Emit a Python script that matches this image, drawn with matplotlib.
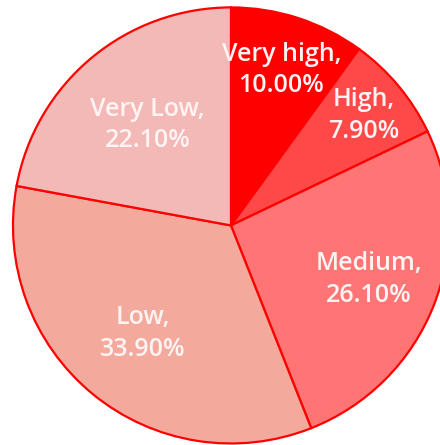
import matplotlib
matplotlib.use("Agg")
import matplotlib.pyplot as plt
import numpy as np

categories = ["Very high", "High", "Medium", "Low", "Very Low"]
values = [10.00, 7.90, 26.10, 33.90, 22.10]
colors = ["#FF0000", "#FF4848", "#FF7575", "#F4A99D", "#F2B9B6"]
label_radius = [0.75, 0.79, 0.68, 0.64, 0.60]

fig = plt.figure(figsize=(4.4, 4.45), dpi=100)
ax = fig.add_axes([0, 0, 1, 1])
wedges, _ = ax.pie(values, colors=colors, startangle=90, counterclock=False,
                   wedgeprops=dict(edgecolor="#FF0000", linewidth=1.6))

for w, cat, val, r in zip(wedges, categories, values, label_radius):
    ang = np.deg2rad((w.theta1 + w.theta2) / 2)
    ax.text(r * np.cos(ang), r * np.sin(ang), f"{cat},\n{val:.2f}%",
            ha="center", va="center", color="#FFF4F4", fontsize=18,
            family="Open Sans", fontweight="semibold", linespacing=1.35)

ax.set_aspect("auto")
ax.set_xlim(-1.0596, 0.959)
ax.set_ylim(-1.007, 1.034)
ax.axis("off")
fig.savefig("out.png", dpi=100)
